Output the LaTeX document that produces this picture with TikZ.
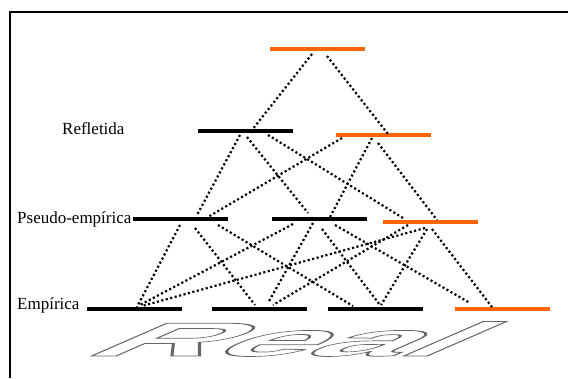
\documentclass[tikz,border=0pt]{standalone}
\usepackage{fontspec}
\setmainfont{Liberation Serif}
\newfontfamily\realfont{Liberation Sans}
\definecolor{barorange}{RGB}{255,102,0}
% stroke-only text rendering for the hollow lettering
\newcommand\hollow[1]{\special{pdf:literal direct 1 Tr 2.6 w [] 0 d}#1\special{pdf:literal direct 0 Tr}}

\begin{document}
\begin{tikzpicture}[x=1pt,y=-1pt,
  bar/.style={fill=black, minimum width=95pt, minimum height=3.6pt, inner sep=0pt, outer sep=0pt},
  obar/.style={bar, fill=barorange},
  dotline/.style={line width=2.2pt, dash pattern=on 2.1pt off 2.5pt},
  lvl/.style={font=\fontsize{17}{17}\selectfont, anchor=base west, inner sep=0pt}]
\useasboundingbox (0,0) rectangle (568,378);

% frame
\draw[line width=2.2pt] (568,12) -- (10,12) -- (10,378);

% level labels
\node[lvl] (lr) at (62,134) {Refletida};
\node[lvl] (lp) at (17,223) {Pseudo-empírica};
\node[lvl] (le) at (17,309) {Empírica};

% bars
\node[obar] (T)  at (317,49)  {};
\node[bar]  (R)  at (245,131) {};
\node[obar] (O2) at (383.5,135) {};
\node[bar]  (P1) at (180.5,219) {};
\node[bar]  (P2) at (319.5,219) {};
\node[obar] (O3) at (430,222) {};
\node[bar]  (E1) at (134.5,309) {};
\node[bar]  (E2) at (259.5,309) {};
\node[bar]  (E3) at (375.5,309) {};
\node[obar] (E4) at (502,309) {};

% dotted links between bars
\newcommand\lnk[4]{\draw[dotline] ([shift={#2}]#1.center) -- ([shift={#4}]#3.center);}
\lnk{T}{(-5,5)}{R}{(7,-1)}
\lnk{T}{(10,7)}{O2}{(4.5,-1)}
\lnk{R}{(-5,4)}{P1}{(16.5,-4)}
\lnk{R}{(2,6)}{P2}{(-11.5,-6)}
\lnk{R}{(23,4)}{O3}{(-27,-4)}
\lnk{O2}{(-41.5,3)}{P1}{(27.5,-2)}
\lnk{O2}{(-11.5,3)}{P2}{(10.5,-2)}
\lnk{O2}{(-5.5,8)}{O3}{(7,-2)}
\lnk{P1}{(-0.5,6)}{E1}{(2.5,-2)}
\lnk{P1}{(14.5,9)}{E2}{(-4.5,-4)}
\lnk{P1}{(37.5,6)}{E3}{(-22.5,-3)}
\lnk{P2}{(-26.5,5)}{E1}{(5.5,-4)}
\lnk{P2}{(-6.5,4)}{E2}{(8.5,-6)}
\lnk{P2}{(2.5,10)}{E3}{(4.5,-4)}
\lnk{P2}{(15.5,6)}{E4}{(-32,-6)}
\lnk{O3}{(-5,6)}{E1}{(7.5,-3)}
\lnk{O3}{(-22,3)}{E2}{(13.5,-4)}
\lnk{O3}{(-3,7)}{E3}{(5.5,-4)}
\lnk{O3}{(2,7)}{E4}{(-10,-2)}

% slanted hollow lettering at the base
\begin{scope}[shift={(80,356)}, xslant=2.3, yscale=0.28]
  \node[transform shape, anchor=base west, inner sep=0pt, text=black!60,
        font=\realfont\bfseries\fontsize{170}{170}\selectfont] (real) at (0,0) {\hollow{Real}};
\end{scope}
\end{tikzpicture}
\end{document}
